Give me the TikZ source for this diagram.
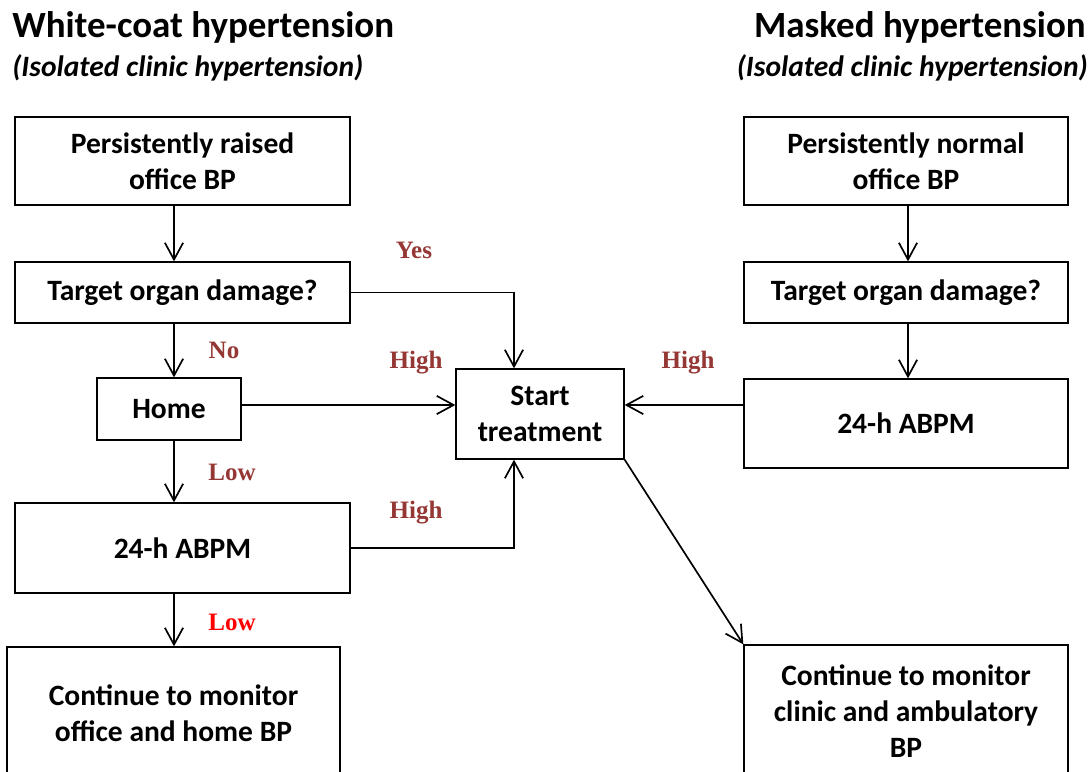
\documentclass[tikz,border=0pt]{standalone}
\usepackage{fontspec}
\setmainfont{Carlito}
\newfontfamily\lblfont{Liberation Serif}
\usetikzlibrary{arrows.meta}

\definecolor{lblred}{HTML}{953735}

\tikzset{
  box/.style={draw, line width=0.9pt, align=center, font=\bfseries\fontsize{21}{25.6}\selectfont, inner sep=0pt},
  lbl/.style={font=\lblfont\bfseries\fontsize{17.8}{20}\selectfont, text=lblred, inner sep=0pt},
  arr/.style={line width=1.2pt, -{Straight Barb[length=12pt,width=13pt,line width=1.2pt]}},
  ttl/.style={font=\bfseries\fontsize{26.3}{30}\selectfont, inner sep=0pt},
  subttl/.style={font=\bfseries\itshape\fontsize{21}{24}\selectfont, inner sep=0pt},
}

\begin{document}
\begin{tikzpicture}[x=0.025cm, y=-0.025cm]
	\clip (0,0) rectangle (1092,771);
	% titles
	\node[ttl, anchor=west] (tl) at (12,27) {White-coat hypertension};
	\node[subttl, anchor=west] (stl) at (12,68) {(Isolated clinic hypertension)};
	\node[ttl, anchor=east] (tr) at (1086,27) {Masked hypertension};
	\node[subttl, anchor=east] (str) at (1088,68) {(Isolated clinic hypertension)};

	% left column
	\node[box, minimum width=335*0.7113pt, minimum height=88*0.7113pt] (L1) at (182.5,161) {Persistently raised\\office BP};
	\node[box, minimum width=335*0.7113pt, minimum height=61*0.7113pt] (L2) at (182.5,292.5) {Target organ damage?};
	\node[box, minimum width=144*0.7113pt, minimum height=62*0.7113pt] (L3) at (169,409) {Home};
	\node[box, minimum width=335*0.7113pt, minimum height=90*0.7113pt] (L4) at (182.5,548) {24-h ABPM};
	\node[box, minimum width=333*0.7113pt, minimum height=133*0.7113pt] (L5) at (173.5,713.5) {Continue to monitor\\office and home BP};

	% middle
	\node[box, minimum width=168*0.7113pt, minimum height=90*0.7113pt] (C) at (540,414) {Start\\treatment};

	% right column
	\node[box, minimum width=324*0.7113pt, minimum height=88*0.7113pt] (R1) at (906,161) {Persistently normal\\office BP};
	\node[box, minimum width=324*0.7113pt, minimum height=61*0.7113pt] (R2) at (906,292.5) {Target organ damage?};
	\node[box, minimum width=324*0.7113pt, minimum height=89*0.7113pt] (R3) at (906,423.5) {24-h ABPM};
	\node[box, minimum width=324*0.7113pt, minimum height=132*0.7113pt] (R4) at (906,711) {Continue to monitor\\clinic and ambulatory\\BP};

	\coordinate (colL) at (174,0);
	\coordinate (colC) at (514,0);
	\coordinate (colR) at (908,0);
	\coordinate (rowH) at (0,405);

	% connectors
	\draw[arr] (L1.south -| colL) -- (L2.north -| colL);
	\draw[arr] (L2.south -| colL) -- (L3.north -| colL);
	\draw[arr] (L3.south -| colL) -- (L4.north -| colL);
	\draw[arr] (L4.south -| colL) -- (L5.north -| colL);
	\draw[arr] (L2.east) -| (colC |- C.north);
	\draw[arr] (L3.east |- rowH) -- (C.west |- rowH);
	\draw[arr] (L4.east) -| (colC |- C.south);
	\draw[arr] (R1.south -| colR) -- (R2.north -| colR);
	\draw[arr] (R2.south -| colR) -- (R3.north -| colR);
	\draw[arr] (R3.west |- rowH) -- (C.east |- rowH);
	\draw[arr] (C.south east) -- (R4.north west);

	% labels
	\node[lbl] (yes) at (414,250) {Yes};
	\node[lbl] (no) at (224,350) {No};
	\node[lbl] (hi1) at (416,363) {High};
	\node[lbl] (lo1) at (232,472) {Low};
	\node[lbl] (hi2) at (416,513) {High};
	\node[lbl, text=red] (lo2) at (232,622) {Low};
	\node[lbl] (hi3) at (688,363) {High};
\end{tikzpicture}
\end{document}
